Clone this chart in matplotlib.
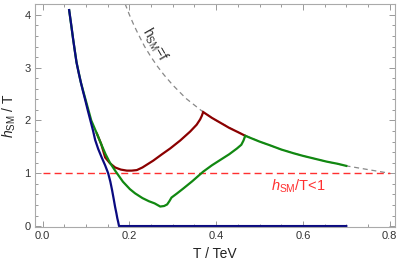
import numpy as np
from matplotlib import pyplot as plt
from matplotlib.ticker import MultipleLocator

plt.rcParams['font.family'] = ['Liberation Sans', 'DejaVu Sans']
plt.rcParams['mathtext.fontset'] = 'custom'
plt.rcParams['mathtext.rm'] = 'Liberation Sans'
plt.rcParams['mathtext.it'] = 'Liberation Sans:italic'

# curve h_SM = f
T_f = [0.19, 0.20, 0.21, 0.22, 0.235, 0.25, 0.265, 0.28, 0.30, 0.33, 0.37, 0.40, 0.45,
       0.50, 0.55, 0.60, 0.65, 0.70, 0.75, 0.80]
y_f = [4.21, 4.00, 3.81, 3.64, 3.40, 3.20, 3.02, 2.86, 2.67, 2.42, 2.16, 2.00, 1.78,
       1.60, 1.45, 1.33, 1.23, 1.14, 1.07, 1.00]

# blue
T_blue = [0.061, 0.066, 0.070, 0.074, 0.078, 0.083, 0.088, 0.093, 0.098, 0.104, 0.110,
          0.116, 0.121, 0.128, 0.136, 0.144, 0.151, 0.156, 0.160, 0.164,
          0.167, 0.170, 0.172, 0.174, 0.175, 0.176, 0.70]
y_blue = [4.09, 3.80, 3.55, 3.32, 3.10, 2.90, 2.72, 2.55, 2.39, 2.19, 2.00,
          1.81, 1.63, 1.46, 1.30, 1.15, 1.00, 0.84, 0.68, 0.50,
          0.36, 0.24, 0.15, 0.08, 0.04, 0.0, 0.0]

# green
T_green = [0.061, 0.070, 0.078, 0.088, 0.099, 0.112, 0.125, 0.135, 0.145, 0.155, 0.167,
           0.185, 0.201, 0.213, 0.230, 0.245, 0.258, 0.271, 0.280, 0.287, 0.292, 0.297,
           0.310, 0.324, 0.345, 0.370, 0.390, 0.409, 0.430, 0.448, 0.458, 0.463, 0.467,
           0.50, 0.524, 0.55, 0.578, 0.60, 0.63, 0.655, 0.68, 0.70]
y_green = [4.09, 3.55, 3.10, 2.72, 2.39, 2.00, 1.75, 1.55, 1.36, 1.20, 1.05,
           0.84, 0.70, 0.62, 0.53, 0.47, 0.43, 0.37, 0.38, 0.41, 0.47, 0.54,
           0.62, 0.71, 0.85, 1.03, 1.15, 1.25, 1.36, 1.47, 1.54, 1.62, 1.71,
           1.60, 1.53, 1.45, 1.38, 1.33, 1.27, 1.22, 1.18, 1.14]

# red
T_red = [0.125, 0.135, 0.144, 0.155, 0.167, 0.180, 0.194, 0.205, 0.217, 0.230, 0.255,
         0.275, 0.294, 0.317, 0.340, 0.355, 0.363, 0.367, 0.370, 0.39, 0.409, 0.43,
         0.45, 0.467]
y_red = [1.75, 1.55, 1.30, 1.19, 1.11, 1.07, 1.05, 1.05, 1.06, 1.11, 1.24,
         1.36, 1.47, 1.62, 1.79, 1.92, 2.02, 2.09, 2.16, 2.05, 1.96, 1.86,
         1.78, 1.71]

fig = plt.figure(figsize=(4.02, 2.70), dpi=100)
ax = fig.add_axes([0.087, 0.159, 0.896, 0.826])

ax.plot(T_f, y_f, color='#888888', lw=0.9, dashes=(4, 3))
ax.plot([0, 0.8], [1, 1], color='#ff3030', lw=1.0, dashes=(5, 3))
ax.plot(T_red, y_red, color='#8b0000', lw=1.6, solid_joinstyle='miter')
ax.plot(T_green, y_green, color='#118811', lw=1.6, solid_joinstyle='miter')
ax.plot(T_blue, y_blue, color='#0a0a80', lw=1.6)

ax.text(0.259, 3.43, r'h$_{\mathrm{SM}}$=f', rotation=-60, ha='center', va='center',
        fontsize=10, color='#333333')
ax.text(0.589, 0.745, r'$h_{\mathrm{SM}}$/T<1', ha='center', va='center',
        fontsize=10.5, color='#ff3030')

ax.set_xlim(-0.0178, 0.8127)
ax.set_ylim(-0.019, 4.205)
ax.set_xticks([0.0, 0.2, 0.4, 0.6, 0.8])
ax.set_xticklabels(['0.0', '0.2', '0.4', '0.6', '0.8'])
ax.set_yticks([0, 1, 2, 3, 4])
ax.xaxis.set_minor_locator(MultipleLocator(0.05))
ax.yaxis.set_minor_locator(MultipleLocator(0.2))
ax.tick_params(which='both', direction='in', top=True, right=True, color='#999999',
               labelcolor='#333333', labelsize=8, width=0.7)
ax.tick_params(which='major', length=4, pad=3)
ax.tick_params(which='minor', length=2.3)
for s in ax.spines.values():
    s.set_color('#aaaaaa')
    s.set_linewidth(0.8)

ax.set_xlabel('T / TeV', fontsize=10, color='#222222', labelpad=4)
ax.set_ylabel(r'$h_{\mathrm{SM}}$ / T', fontsize=10, color='#222222', labelpad=5)

fig.savefig('out.png', dpi=100)
